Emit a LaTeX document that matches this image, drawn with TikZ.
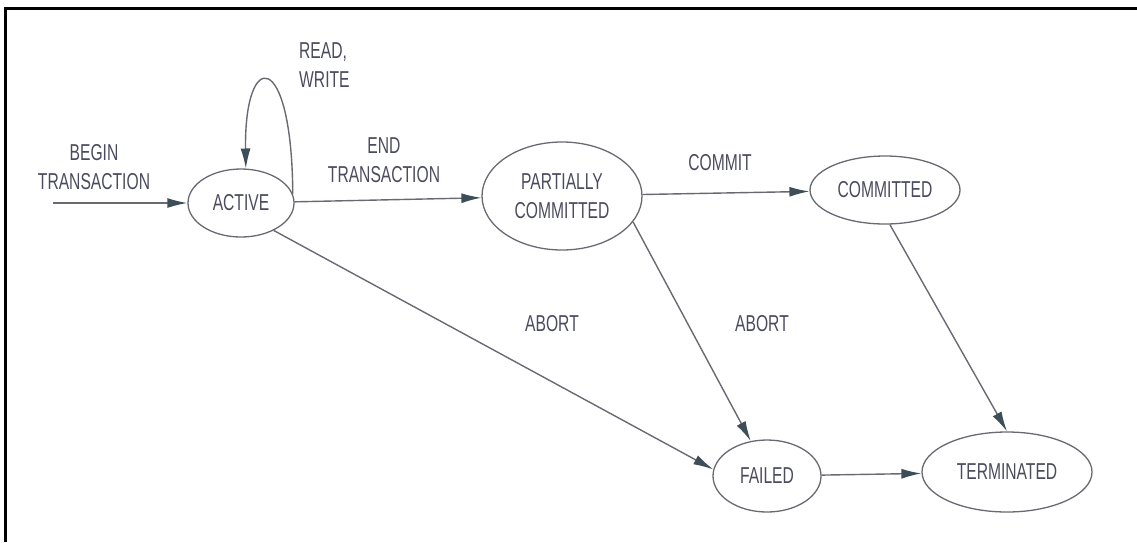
\documentclass[tikz,border=0pt]{standalone}
\usepackage{fontspec}
\setmainfont{Liberation Sans}[FakeStretch=0.68]
\usetikzlibrary{shapes.geometric,arrows.meta}
\definecolor{linegray}{RGB}{105,105,115}
\definecolor{textgray}{RGB}{75,75,95}
\definecolor{tipgray}{RGB}{62,78,88}
\tikzset{
  state/.style={draw=linegray,line width=1.3pt,ellipse,inner sep=0pt,text=textgray,align=center},
  trans/.style={draw=linegray,line width=1.4pt,-{Latex[length=20pt,width=10pt,color=tipgray]}},
  lbl/.style={text=textgray,align=center,inner sep=0pt}
}
\begin{document}
\begin{tikzpicture}[x=1pt,y=-1pt,font=\fontsize{23}{29}\selectfont]
\useasboundingbox(0,0)rectangle(1137,542);
\draw[line width=3pt](5,542)--(5,8)--(1137,8);
\node[state,minimum width=106pt,minimum height=68pt](active)at(241,203){ACTIVE};
\node[state,minimum width=160pt,minimum height=108pt](pc)at(562,196){PARTIALLY\\COMMITTED};
\node[state,minimum width=150pt,minimum height=68pt](committed)at(885,190){COMMITTED};
\node[state,minimum width=108pt,minimum height=72pt](failed)at(767,476){FAILED};
\node[state,minimum width=170pt,minimum height=80pt](terminated)at(1007,472){TERMINATED};
\coordinate(start)at(53,203);
\draw[trans](start)--(active);
\draw[trans](active.10)..controls(292,48)and(244,48)..(active.82);
\draw[trans](active)--(pc);
\draw[trans](pc)--(committed);
\draw[trans](active.-40)--(failed.173);
\draw[trans](pc.-20)--(failed.115);
\draw[trans](committed.-82)--(terminated.north);
\draw[trans](failed)--(terminated);
\node[lbl](lbegin)at(94,167){BEGIN\\TRANSACTION};
\node[lbl,anchor=north west,align=left](lrw)at(299,42){READ,\\WRITE};
\node[lbl](lend)at(384,160){END\\TRANSACTION};
\node[lbl](lcommit)at(720,163){COMMIT};
\node[lbl](labort1)at(552,324){ABORT};
\node[lbl](labort2)at(762,324){ABORT};
\end{tikzpicture}
\end{document}
